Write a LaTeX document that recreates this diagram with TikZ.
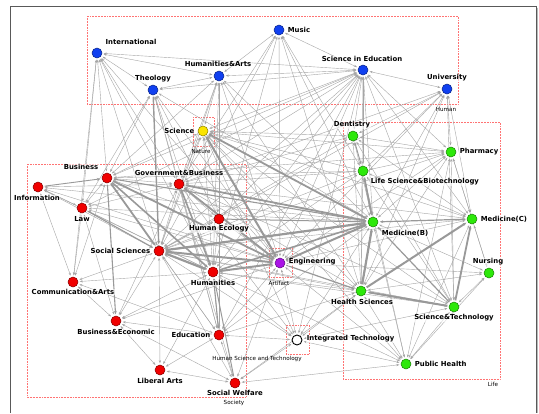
\documentclass[tikz,border=0pt]{standalone}
\usepackage{fontspec}
\setmainfont{DejaVu Sans}
\usetikzlibrary{arrows.meta,backgrounds}
\definecolor{hblue}{RGB}{16,64,240}
\definecolor{sred}{RGB}{240,0,0}
\definecolor{lgreen}{RGB}{45,232,10}
\definecolor{nyellow}{RGB}{250,228,0}
\definecolor{apurple}{RGB}{170,20,230}
\tikzset{
  dot/.style={circle,draw=#1!55!black,fill=#1,minimum size=10pt,inner sep=0pt,line width=.5pt},
  lab/.style={font=\bfseries\fontsize{6.9}{8}\selectfont,inner sep=.6pt,fill=white,fill opacity=.6,text opacity=1},
  grp/.style={draw=red!55,densely dotted,line width=.55pt},
  grplab/.style={font=\fontsize{5.6}{6}\selectfont,inner sep=0pt},
  lnk/.style={draw=gray!70,line width=#1,shorten >=1.5pt,shorten <=1.5pt},
  lnk/.default=.4pt,
  both/.style={{Stealth[length=3pt,width=2.2pt]}-{Stealth[length=3pt,width=2.2pt]}},
  one/.style={draw=gray!80,-{Stealth[length=3.4pt,width=2.8pt]}},
}
\begin{document}
\begin{tikzpicture}[x=1pt,y=-1pt]
\useasboundingbox (0,0) rectangle (539,413);

% Human
\node[dot=hblue] (intl) at (97,53) {};
\node[dot=hblue] (music) at (279,30) {};
\node[dot=hblue] (theo) at (153,90) {};
\node[dot=hblue] (hart) at (219,76) {};
\node[dot=hblue] (sced) at (363,70) {};
\node[dot=hblue] (univ) at (447,89) {};
% Nature
\node[dot=nyellow] (sci) at (203,131) {};
% Life
\node[dot=lgreen] (dent) at (353,136) {};
\node[dot=lgreen] (pharm) at (451,152) {};
\node[dot=lgreen] (lsb) at (363,171) {};
\node[dot=lgreen] (medb) at (373,222) {};
\node[dot=lgreen] (medc) at (472,219) {};
\node[dot=lgreen] (nurs) at (489,273) {};
\node[dot=lgreen] (hs) at (361,291) {};
\node[dot=lgreen] (st) at (454,307) {};
\node[dot=lgreen] (ph) at (406,364) {};
% Society
\node[dot=sred] (bus) at (107,178) {};
\node[dot=sred] (info) at (38,187) {};
\node[dot=sred] (gov) at (179,184) {};
\node[dot=sred] (law) at (82,208) {};
\node[dot=sred] (hec) at (219,219) {};
\node[dot=sred] (soc) at (159,251) {};
\node[dot=sred] (hum) at (213,272) {};
\node[dot=sred] (comm) at (73,282) {};
\node[dot=sred] (bec) at (116,321) {};
\node[dot=sred] (edu) at (219,335) {};
\node[dot=sred] (lib) at (160,370) {};
\node[dot=sred] (swf) at (235,383) {};
% Artifact, Technology
\node[dot=apurple] (eng) at (280,263) {};
\node[dot=white,draw=black,line width=.9pt] (itec) at (297,340) {};

\node[lab] (intl-t) at (131,42) {International};
\node[lab,anchor=west] (music-t) at (287,30) {Music};
\node[lab] (theo-t) at (153,79) {Theology};
\node[lab] (hart-t) at (218,64) {Humanities\&Arts};
\node[lab] (sced-t) at (362,59) {Science in Education};
\node[lab] (univ-t) at (447,78) {University};
\node[lab,anchor=east] (sci-t) at (195,131) {Science};
\node[lab] (dent-t) at (352,125) {Dentistry};
\node[lab,anchor=west] (pharm-t) at (459,152) {Pharmacy};
\node[lab,anchor=west] (lsb-t) at (370,182) {Life Science\&Biotechnology};
\node[lab] (bus-t) at (81,167) {Business};
\node[lab] (info-t) at (37,198) {Information};
\node[lab] (gov-t) at (179,173) {Government\&Business};
\node[lab] (law-t) at (82,219) {Law};
\node[lab] (hec-t) at (219,229) {Human Ecology};
\node[lab,anchor=east] (soc-t) at (151,251) {Social Sciences};
\node[lab] (hum-t) at (213,283) {Humanities};
\node[lab] (comm-t) at (73,292) {Communication\&Arts};
\node[lab] (bec-t) at (116,332) {Business\&Economic};
\node[lab,anchor=east] (edu-t) at (211,335) {Education};
\node[lab] (lib-t) at (160,381) {Liberal Arts};
\node[lab] (swf-t) at (235,393) {Social Welfare};
\node[lab,anchor=west] (eng-t) at (288,262) {Engineering};
\node[lab] (medb-t) at (405,233) {Medicine(B)};
\node[lab,anchor=west] (medc-t) at (480,219) {Medicine(C)};
\node[lab] (nurs-t) at (488,262) {Nursing};
\node[lab] (hs-t) at (362,302) {Health Sciences};
\node[lab] (st-t) at (454,318) {Science\&Technology};
\node[lab,anchor=west] (itec-t) at (306,339) {Integrated Technology};
\node[lab,anchor=west] (ph-t) at (414,364) {Public Health};

\node[grplab] (human-g) at (446,109) {Human};
\node[grplab] (nature-g) at (201,151) {Nature};
\node[grplab] (society-g) at (234,403) {Society};
\node[grplab] (life-g) at (493,384) {Life};
\node[grplab] (artifact-g) at (279,283) {Artifact};
\node[grplab] (tech-g) at (257,359) {Human Science and Technology};

\begin{scope}[on background layer]
\fill[white] (0,0) rectangle (539,413);
\draw[grp] (87,16) rectangle (458,104);
\draw[grp] (193,117) rectangle (214,146);
\draw[grp] (27,164) rectangle (246,397);
\draw[grp] (343,122) rectangle (500,379);
\draw[grp] (269,248) rectangle (292,277);
\draw[grp] (286,325) rectangle (309,354);

\foreach \a/\b in {intl/theo,intl/hart,intl/sced,intl/bus,intl/law,intl/soc,intl/gov,intl/hum,intl/eng,intl/comm,
  theo/hart,theo/sced,theo/bus,theo/law,theo/gov,theo/hum,theo/hec,theo/eng,theo/medb,theo/edu,
  hart/sced,hart/music,hart/bus,hart/gov,hart/hec,hart/hum,hart/soc,hart/eng,hart/medb,hart/hs,hart/edu,hart/sci,
  music/sced,music/gov,music/soc,music/hum,music/eng,music/medb,music/hs,music/lsb,
  sced/univ,sced/sci,sced/bus,sced/gov,sced/soc,sced/hum,sced/hec,sced/eng,sced/dent,sced/lsb,sced/pharm,
  sced/medb,sced/medc,sced/hs,sced/st,sced/edu,sced/itec,sced/law,
  univ/dent,univ/pharm,univ/lsb,univ/medb,univ/medc,univ/hs,univ/st,univ/eng,univ/gov,univ/soc,
  sci/bus,sci/gov,sci/soc,sci/hum,sci/hec,sci/dent,sci/lsb,sci/pharm,sci/medc,sci/hs,sci/st,sci/ph,sci/itec,
  dent/medb,dent/pharm,dent/medc,dent/hs,dent/st,dent/soc,dent/gov,
  pharm/lsb,pharm/medb,pharm/medc,pharm/hs,pharm/st,pharm/ph,pharm/nurs,pharm/soc,pharm/eng,pharm/bus,
  lsb/hs,lsb/st,lsb/medc,lsb/soc,lsb/gov,lsb/bus,lsb/ph,lsb/hum,
  medb/nurs,medb/ph,medb/law,medb/edu,medb/itec,medb/info,
  medc/nurs,medc/ph,medc/eng,medc/soc,medc/gov,
  nurs/hs,nurs/st,nurs/eng,nurs/ph,
  hs/ph,hs/itec,hs/hum,hs/soc,hs/edu,hs/swf,hs/gov,
  st/ph,st/itec,st/soc,st/hum,st/gov,
  itec/eng,itec/hum,itec/soc,itec/edu,itec/ph,itec/gov,
  ph/eng,ph/swf,ph/hum,
  info/law,info/soc,info/comm,info/hum,info/gov,info/eng,
  bus/gov,bus/hec,bus/law,bus/comm,bus/edu,
  law/hum,law/comm,law/bec,law/gov,law/eng,
  gov/hec,gov/edu,gov/swf,gov/soc,gov/bec,
  hec/hum,hec/soc,hec/eng,hec/edu,
  soc/comm,soc/bec,soc/edu,soc/lib,soc/swf,
  hum/edu,hum/bec,hum/lib,hum/comm,
  comm/bec,comm/edu,
  bec/edu,bec/lib,bec/eng,bec/swf,
  edu/swf,edu/lib,edu/eng,
  lib/swf,swf/eng,swf/itec}
  \draw[lnk,both] (\a) -- (\b);

\foreach \a/\b/\w in {info/bus/.9,bus/soc/1.8,bus/hum/1.6,bus/eng/1.8,bus/medb/1.1,bus/bec/1.1,
  law/soc/1.1,theo/soc/1.4,gov/hum/1.6,gov/eng/1.8,gov/medb/1.8,
  soc/hum/2.2,soc/eng/2,soc/medb/2.2,hum/eng/2,hum/medb/1.6,
  eng/medb/2,eng/hs/1.2,sci/eng/2,sci/medb/1.8,dent/lsb/.9,lsb/medb/1.8,
  medc/medb/1.2,hs/medb/2.2,hs/medc/2,st/hs/2,st/medc/1.8,st/medb/1.2,
  hec/medb/1,edu/hum/1.1,swf/hum/1}
  \draw[lnk=\w pt,one] (\a) -- (\b);
\end{scope}

\draw[black!65,line width=.9pt] (10.5,413) |- (536,6.5) -- (536,413);
\draw[gray!55,line width=1.4pt] (537.6,7.5) -- (537.6,413);
\end{tikzpicture}
\end{document}
